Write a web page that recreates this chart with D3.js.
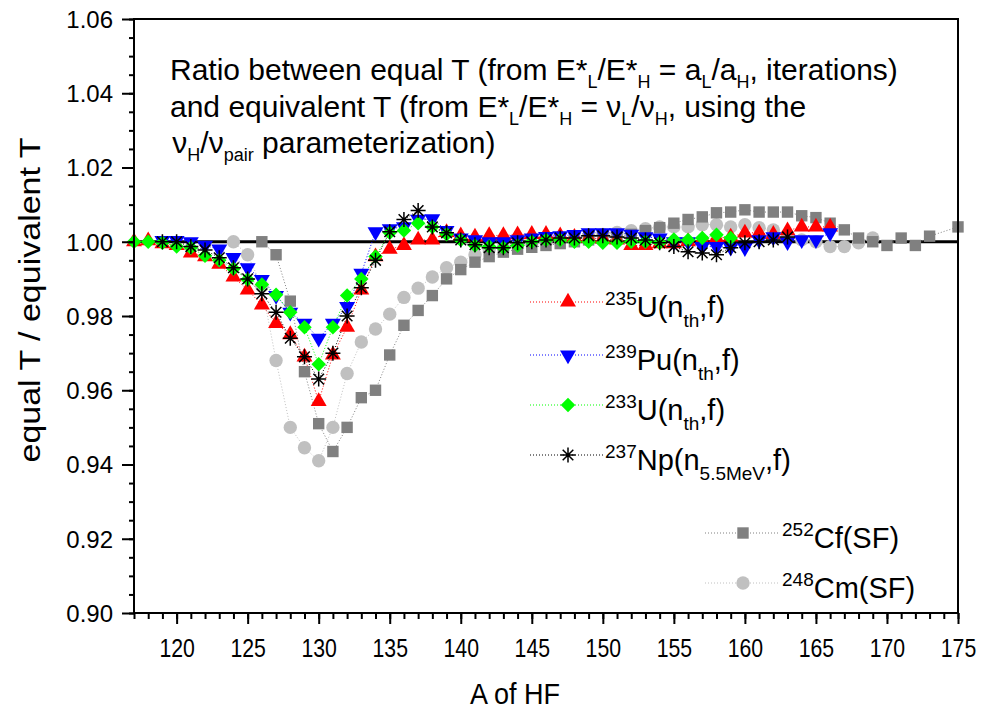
<!DOCTYPE html>
<html lang="en">
<head>
<meta charset="UTF-8">
<title>equal T / equivalent T</title>
<style>
  body { margin: 0; background: #fff; }
  text { font-family: "Liberation Sans", Arial, sans-serif; fill: #000; white-space: pre; }
  .eje path, .eje line { stroke: #000; }
</style>
<script src="https://cdn.jsdelivr.net/npm/d3@7/dist/d3.min.js"></script>
</head>
<body>
<script>
// ---- datos ----
var A_U235  = [117,118,119,120,121,122,123,124,125,126,127,128,129,130,131,132,133,134,135,136,137,138,139,140,141,142,143,144,145,146,147,148,149,150,151,152,153,154,155,156,157,158,159,160,161,162,163,164,165,166];
var R_U235  = [1.000,1.0003,0.9995,0.999,0.997,0.996,0.994,0.9905,0.987,0.983,0.978,0.975,0.969,0.957,0.9695,0.977,0.987,0.996,0.998,0.999,1.0005,1.0005,1.0025,1.0016,1.0013,1.0017,1.0017,1.0019,1.002,1.002,1.0016,1.0012,1.001,1.0008,1.0005,0.999,0.999,0.9995,0.9995,1.000,1.0005,1.001,1.0013,1.0024,1.0024,1.002,1.003,1.004,1.004,1.004];

var A_Pu239 = [119,120,121,122,123,124,125,126,127,128,129,130,131,132,133,134,135,136,137,138,139,140,141,142,143,144,145,146,147,148,149,150,151,152,153,154,155,156,157,158,159,160,161,162,163,164,165,166];
var R_Pu239 = [1.0003,1.0003,1.000,0.999,0.998,0.9957,0.993,0.9898,0.9855,0.981,0.978,0.974,0.978,0.9825,0.9915,1.0027,1.0035,1.004,1.006,1.0062,1.003,1.001,1.0005,1.000,1.000,1.0005,1.001,1.0014,1.0016,1.0019,1.0024,1.0024,1.0024,1.002,1.0013,1.001,1.000,1.000,0.9987,0.9987,0.9985,0.9984,1.0005,1.0013,1.000,1.0005,1.0005,1.0024];

var A_U233  = [117,118,119,120,121,122,123,124,125,126,127,128,129,130,131,132,133,134,135,136,137,138,139,140,141,142,143,144,145,146,147,148,149,150,151,152,153,154,155,156,157,158,159];
var R_U233  = [1.000,1.000,0.9997,0.9987,0.9984,0.9962,0.995,0.9927,0.9898,0.9885,0.9857,0.981,0.977,0.967,0.977,0.9855,0.990,0.996,1.0024,1.003,1.005,1.004,1.002,1.0005,0.999,0.9987,0.9984,0.999,1.000,1.0005,1.0005,1.000,1.000,0.9997,0.9997,1.000,1.000,0.9997,1.0006,1.0005,1.001,1.0019,1.001];

var A_Np237 = [119,120,121,122,123,124,125,126,127,128,129,130,131,132,133,134,135,136,137,138,139,140,141,142,143,144,145,146,147,148,149,150,151,152,153,154,155,156,157,158,159,160,161,162,163];
var R_Np237 = [1.000,1.000,0.9987,0.9978,0.9957,0.993,0.990,0.986,0.981,0.974,0.969,0.963,0.970,0.980,0.9876,0.995,1.0027,1.006,1.0084,1.004,1.0024,1.0005,0.9992,0.9984,0.9984,0.9997,1.000,1.0005,1.001,1.001,1.0016,1.0016,1.0013,1.001,1.0005,0.9997,0.9987,0.9973,0.997,0.9965,0.9984,0.9997,1.000,1.0005,1.0013];

var A_Cf252 = [126,127,128,129,130,131,132,133,134,135,136,137,138,139,140,141,142,143,144,145,146,147,148,149,150,151,152,153,154,155,156,157,158,159,160,161,162,163,164,165,166,167,168,169,170,171,172,173,175];
var R_Cf252 = [1.000,0.9965,0.984,0.965,0.951,0.9435,0.950,0.958,0.960,0.9695,0.9775,0.9815,0.9855,0.990,0.9925,0.9945,0.996,0.9972,0.998,0.9985,0.999,0.9995,1.000,1.0005,1.001,1.0015,1.002,1.003,1.0038,1.005,1.006,1.0067,1.0078,1.008,1.0086,1.008,1.008,1.008,1.007,1.0065,1.005,1.0032,1.001,1.000,0.999,1.001,0.999,1.0015,1.004];

var A_Cm248 = [124,125,126,127,128,129,130,131,132,133,134,135,136,137,138,139,140,141,142,143,144,145,146,147,148,149,150,151,152,153,154,155,156,157,158,159,160,161,162,163,164,165,166,167,168,169];
var R_Cm248 = [1.000,0.9965,0.988,0.968,0.950,0.9445,0.941,0.950,0.9645,0.973,0.9765,0.9805,0.985,0.9875,0.9905,0.993,0.9945,0.9965,0.998,0.9985,0.999,0.9995,1.000,1.0005,1.001,1.0015,1.002,1.0025,1.003,1.0035,1.004,1.004,1.004,1.0046,1.0046,1.004,1.0046,1.0038,1.0032,1.0019,1.0005,1.000,0.9987,0.9987,0.9997,1.001];

var xTicks = [120,125,130,135,140,145,150,155,160,165,170,175];
var yTicks = [0.90,0.92,0.94,0.96,0.98,1.00,1.02,1.04,1.06];

// ---- lienzo ----
var ancho_svg = 987, alto_svg = 715;
var izq = 134, der = 958, arriba = 19, abajo = 613;

var x = d3.scaleLinear().domain([117, 175]).range([izq, der]);
var y = d3.scaleLinear().domain([0.90, 1.06]).range([abajo, arriba]);

var svg = d3.select("body").append("svg")
    .attr("width", ancho_svg)
    .attr("height", alto_svg);

// simbolos
var triUp   = d3.symbol().type(d3.symbolTriangle).size(110)();
var square  = d3.symbol().type(d3.symbolSquare).size(130)();
var diamond = d3.symbol().type(d3.symbolSquare).size(105)();
var circle  = d3.symbol().type(d3.symbolCircle).size(140)();
function asterisco(r) {
  var d = "";
  for (var k = 0; k < 4; k++) {
    var a = k * Math.PI / 4;
    var dx = r * Math.sin(a), dy = r * Math.cos(a);
    d += "M" + (-dx) + "," + (-dy) + "L" + dx + "," + dy;
  }
  return d;
}

var series = [
  {A: A_Cm248, R: R_Cm248, color: "#c0c0c0", sym: circle,  rot: 0},
  {A: A_Cf252, R: R_Cf252, color: "#808080", sym: square,  rot: 0},
  {A: A_U235,  R: R_U235,  color: "#ff0000", sym: triUp,   rot: 0},
  {A: A_Pu239, R: R_Pu239, color: "#0000ff", sym: triUp,   rot: 180},
  {A: A_U233,  R: R_U233,  color: "#00ff00", sym: diamond, rot: 45},
  {A: A_Np237, R: R_Np237, color: "#000000", sym: "ast",   rot: 0}
];

// linea de referencia en 1.00
svg.append("line")
   .attr("x1", x(117)).attr("x2", x(175))
   .attr("y1", y(1.0)).attr("y2", y(1.0))
   .attr("stroke", "#000").attr("stroke-width", 3);

var linea = d3.line().x(function(d) { return x(d[0]); }).y(function(d) { return y(d[1]); });

series.forEach(function(s) {
  var pts = s.A.map(function(a, i) { return [a, s.R[i]]; });
  svg.append("path")
     .attr("d", linea(pts))
     .attr("fill", "none")
     .attr("stroke", s.color)
     .attr("stroke-width", 1)
     .attr("stroke-dasharray", "1,2");
});

function marcador(g, s, px, py, escala) {
  escala = escala || 1;
  if (s.sym === "ast") {
    g.append("path")
     .attr("d", asterisco(7.5 * escala))
     .attr("transform", "translate(" + px + "," + py + ")")
     .attr("stroke", "#000").attr("stroke-width", 1.5).attr("fill", "none");
  } else {
    g.append("path")
     .attr("d", s.sym)
     .attr("transform", "translate(" + px + "," + py + ") rotate(" + s.rot + ") scale(" + escala + ")")
     .attr("fill", s.color);
  }
}

series.forEach(function(s) {
  var g = svg.append("g");
  s.A.forEach(function(a, i) { marcador(g, s, x(a), y(s.R[i])); });
});

// ---- ejes ----
var xMenor = d3.range(117, 176, 1);
var yMenor = d3.range(0, 33).map(function(i) { return 0.90 + i * 0.005; });

svg.append("g").attr("class", "eje")
   .attr("transform", "translate(0," + abajo + ")")
   .call(d3.axisBottom(x).tickValues(xMenor).tickSize(6).tickSizeOuter(0).tickFormat(""))
   .call(function(g) { g.select(".domain").remove(); g.selectAll("line").attr("stroke-width", 2); });

svg.append("g").attr("class", "eje")
   .attr("transform", "translate(0," + abajo + ")")
   .call(d3.axisBottom(x).tickValues(xTicks).tickSize(11).tickSizeOuter(0).tickFormat(d3.format("d")))
   .call(function(g) {
     g.select(".domain").remove();
     g.selectAll("line").attr("stroke-width", 2);
     g.selectAll("text").style("font-size", "25px").attr("y", 26).attr("dy", "0.71em")
      .attr("transform", "scale(0.85,1)");
   });

svg.append("g").attr("class", "eje")
   .attr("transform", "translate(" + izq + ",0)")
   .call(d3.axisLeft(y).tickValues(yMenor).tickSize(5).tickSizeOuter(0).tickFormat(""))
   .call(function(g) { g.select(".domain").remove(); g.selectAll("line").attr("stroke-width", 2); });

svg.append("g").attr("class", "eje")
   .attr("transform", "translate(" + izq + ",0)")
   .call(d3.axisLeft(y).tickValues(yTicks).tickSize(12).tickSizeOuter(0).tickFormat(d3.format(".2f")))
   .call(function(g) {
     g.select(".domain").remove();
     g.selectAll("line").attr("stroke-width", 2);
     g.selectAll("text").style("font-size", "24px").attr("x", -21).attr("dy", "0.35em");
   });

// marco
svg.append("rect")
   .attr("x", izq).attr("y", arriba)
   .attr("width", der - izq).attr("height", abajo - arriba)
   .attr("fill", "none").attr("stroke", "#000").attr("stroke-width", 2);

// titulos de ejes
svg.append("text")
   .attr("transform", "translate(515,704) scale(0.9,1)")
   .attr("text-anchor", "middle")
   .style("font-size", "30px")
   .text("A of HF");

svg.append("text")
   .attr("transform", "translate(40,300) rotate(-90) scale(1,0.85)")
   .attr("text-anchor", "middle")
   .style("font-size", "34px")
   .text("equal T / equivalent T");

// texto con sub/superindices
function textoRico(g, px, py, partes, tam, tamPeq, bajada) {
  var t = g.append("text").attr("x", px).attr("y", py).style("font-size", tam + "px");
  var desp = 0;
  partes.forEach(function(p) {
    var objetivo = p[1] === "sub" ? tam * bajada : (p[1] === "sup" ? -tam * 0.42 : 0);
    var sp = t.append("tspan").text(p[0]).attr("dy", objetivo - desp);
    desp = objetivo;
    if (p[1]) sp.style("font-size", tamPeq + "px");
  });
  return t;
}

var nota = svg.append("g");
textoRico(nota, 170, 80, [["Ratio between equal T (from E*"], ["L", "sub"], ["/E*"], ["H", "sub"], [" = a"], ["L", "sub"], ["/a"], ["H", "sub"], [", iterations)"]], 30, 18, 0.28);
textoRico(nota, 170, 117, [["and equivalent T (from E*"], ["L", "sub"], ["/E*"], ["H", "sub"], [" = \u03bd"], ["L", "sub"], ["/\u03bd"], ["H", "sub"], [", using the"]], 30, 18, 0.28);
textoRico(nota, 164, 153, [[" \u03bd"], ["H", "sub"], ["/\u03bd"], ["pair", "sub"], [" parameterization)"]], 30, 18, 0.28);

// ---- leyendas ----
var leyenda1 = [
  {s: series[2], y: 302, txt: [["235", "sup"], ["U(n"], ["th", "sub"], [",f)"]]},
  {s: series[3], y: 355, txt: [["239", "sup"], ["Pu(n"], ["th", "sub"], [",f)"]]},
  {s: series[4], y: 405, txt: [["233", "sup"], ["U(n"], ["th", "sub"], [",f)"]]},
  {s: series[5], y: 455, txt: [["237", "sup"], ["Np(n"], ["5.5MeV", "sub"], [",f)"]]}
];
var leyenda2 = [
  {s: series[1], y: 533, txt: [["252", "sup"], ["Cf(SF)"]]},
  {s: series[0], y: 583, txt: [["248", "sup"], ["Cm(SF)"]]}
];

function dibujaLeyenda(items, x0, x1, xm, xt) {
  var g = svg.append("g");
  items.forEach(function(it) {
    g.append("line")
     .attr("x1", x0).attr("x2", x1).attr("y1", it.y).attr("y2", it.y)
     .attr("stroke", it.s.color).attr("stroke-width", 1).attr("stroke-dasharray", "1,2");
    marcador(g, it.s, xm, it.y, 1);
    textoRico(g, xt, it.y + 15, it.txt, 29, 19, 0.36);
  });
}
dibujaLeyenda(leyenda1, 530, 603, 568, 605);
dibujaLeyenda(leyenda2, 705, 780, 743, 782);
</script>
</body>
</html>
